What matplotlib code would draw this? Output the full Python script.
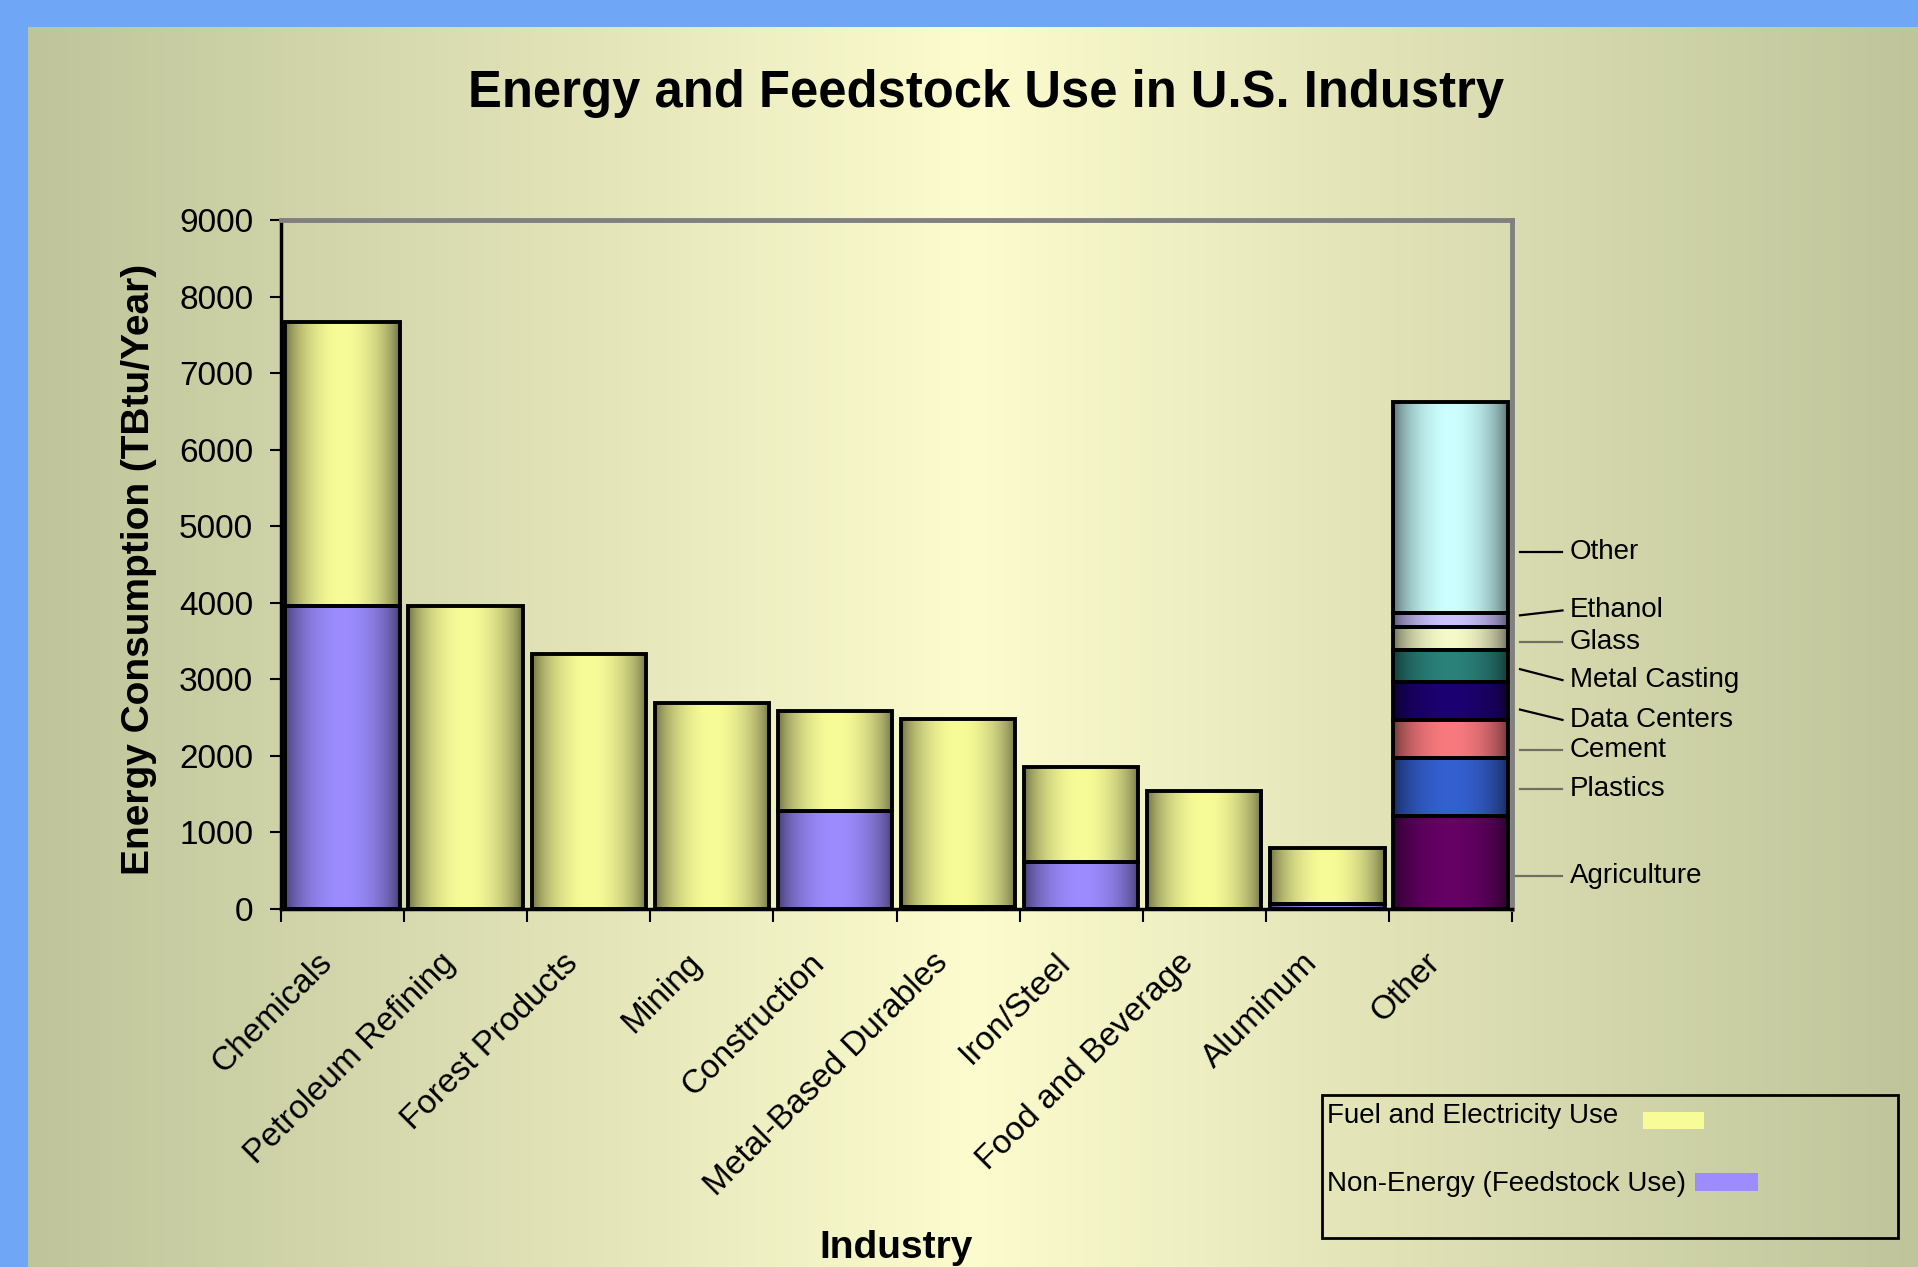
import numpy as np
import matplotlib
matplotlib.use("Agg")
import matplotlib.pyplot as plt
import matplotlib.transforms as mtransforms
from matplotlib.colors import to_rgb
from matplotlib.patches import Rectangle

plt.rcParams['font.family'] = ['Liberation Sans', 'DejaVu Sans']

# data
industries = ["Chemicals", "Petroleum Refining", "Forest Products", "Mining",
              "Construction", "Metal-Based Durables", "Iron/Steel",
              "Food and Beverage", "Aluminum", "Other"]
feedstock = [3960, 0, 0, 0, 1280, 30, 610, 0, 60]
fuel = [3710, 3960, 3325, 2685, 1310, 2450, 1245, 1535, 740]

other_names = ["Agriculture", "Plastics", "Cement", "Data Centers",
               "Metal Casting", "Glass", "Ethanol", "Other"]
other_values = [1210, 760, 500, 500, 410, 310, 170, 2760]
other_colors = ["#660066", "#3460d0", "#f87a7e", "#1c0072",
                "#2a827a", "#f6fac8", "#ccc2ff", "#ccffff"]

fuel_color = "#f8fc98"
feed_color = "#9c8cff"

# label layout for the "Other" breakdown (text y, leader start y)
label_y = [432, 1566, 2078, 2470, 2990, 3485, 3900, 4668]
leader_y = [432, 1566, 2078, 2605, 3133, 3485, 3836, 4668]
leader_col = ["#707060", "#707060", "#707060", "black",
              "black", "#707060", "black", "black"]

W, H = 1918, 1267
fig = plt.figure(figsize=(W / 100, H / 100), dpi=100)
fig.patch.set_facecolor("#70a6f6")

# panel gradient background
bg = fig.add_axes([28 / W, 0, 1 - 28 / W, 1 - 27 / H], zorder=-10)
t = np.linspace(0, 1, 400)
edge = np.array([191, 196, 154]) / 255
mid = np.array([252, 252, 206]) / 255
k = 1 - np.abs(2 * t - 1)
grad = edge[None, :] + (mid - edge)[None, :] * k[:, None]
bg.imshow(grad[None, :, :], aspect="auto", extent=[0, 1, 0, 1])
bg.axis("off")

ax = fig.add_axes([281 / W, 1 - 909 / H, (1512 - 281) / W, (909 - 220) / H])
ax.set_facecolor("none")

x = np.arange(len(industries))
bw = 0.93


def shade(patch, color):
    h = patch.get_height()
    if h <= 0:
        return
    x0, y0, w = patch.get_x(), patch.get_y(), patch.get_width()
    tt = np.linspace(0, 1, 200)
    f = 0.40 + 0.60 * np.sin(np.pi * tt) ** 0.6
    img = f[:, None] * np.array(to_rgb(color))[None, :]
    ax.imshow(img[None, :, :], extent=[x0, x0 + w, y0, y0 + h], aspect="auto",
              zorder=1, interpolation="bilinear")


b1 = ax.bar(x[:9], feedstock, bw, color="none", edgecolor="black", linewidth=2.8, zorder=2)
b2 = ax.bar(x[:9], fuel, bw, bottom=feedstock, color="none", edgecolor="black",
            linewidth=2.8, zorder=2)
for p in b1:
    shade(p, feed_color)
for p in b2:
    shade(p, fuel_color)

bottom = 0
for v, c in zip(other_values, other_colors):
    bb = ax.bar([x[9]], [v], bw, bottom=bottom, color="none", edgecolor="black",
                linewidth=2.8, zorder=2)
    shade(bb[0], c)
    bottom += v

ax.set_xlim(-0.5, 9.5)
ax.set_ylim(0, 9000)

# axes styling
ax.set_yticks(np.arange(0, 9001, 1000))
ax.tick_params(axis="y", direction="out", length=8, width=1.5, labelsize=24, pad=12)
ax.set_xticks(np.arange(-0.5, 10, 1))
ax.set_xticklabels([])
ax.set_xticks(x, minor=True)
ax.set_xticklabels(industries, minor=True, rotation=45, ha="right",
                   rotation_mode="anchor", fontsize=24)
ax.tick_params(axis="x", which="major", direction="out", length=9, width=1.5)
ax.tick_params(axis="x", which="minor", length=0, pad=34)
shift = mtransforms.ScaledTranslation(-0.15, -0.02, fig.dpi_scale_trans)
for lab in ax.get_xticklabels(minor=True):
    lab.set_verticalalignment("center")
    lab.set_transform(lab.get_transform() + shift)

for s in ["left", "bottom"]:
    ax.spines[s].set_color("black")
    ax.spines[s].set_linewidth(2.5)
for s in ["top", "right"]:
    ax.spines[s].set_color("#808080")
    ax.spines[s].set_linewidth(3.5)

ax.set_ylabel("Energy Consumption (TBtu/Year)", fontsize=28, fontweight="bold")
ax.yaxis.set_label_coords(-0.101, 0.493)
ax.set_xlabel("Industry", fontsize=28, fontweight="bold", va="center")
ax.xaxis.set_label_coords(0.5, -0.492)

fig.text(986 / W, 1 - 94 / H, "Energy and Feedstock Use in U.S. Industry",
         fontsize=36.5, fontweight="bold", ha="center", va="center")

# labels for the "Other" bar
tr = mtransforms.blended_transform_factory(ax.transAxes, ax.transData)
for name, ty, ly, lc in zip(other_names, label_y, leader_y, leader_col):
    x_start = 1.0 if name == "Agriculture" else 1.0065
    ax.plot([x_start, 1.041], [ly, ty], color=lc, lw=1.6, transform=tr, clip_on=False)
    ax.text(1.047, ty, name, transform=tr, fontsize=20, va="center", ha="left")

# legend box
fig.patches.append(Rectangle((1322 / W, 1 - 1238 / H), (1898 - 1322) / W, (1238 - 1095) / H,
                             transform=fig.transFigure, fill=False, edgecolor="black",
                             linewidth=2))
fig.text(1327 / W, 1 - 1116 / H, "Fuel and Electricity Use", fontsize=20, va="center")
fig.patches.append(Rectangle((1643 / W, 1 - 1129 / H), 61 / W, 17 / H,
                             transform=fig.transFigure, facecolor=fuel_color, edgecolor="none"))
fig.text(1327 / W, 1 - 1184 / H, "Non-Energy (Feedstock Use)", fontsize=20, va="center")
fig.patches.append(Rectangle((1695 / W, 1 - 1191 / H), 63 / W, 18 / H,
                             transform=fig.transFigure, facecolor=feed_color, edgecolor="none"))

fig.savefig("out.png", dpi=100, facecolor=fig.get_facecolor())
